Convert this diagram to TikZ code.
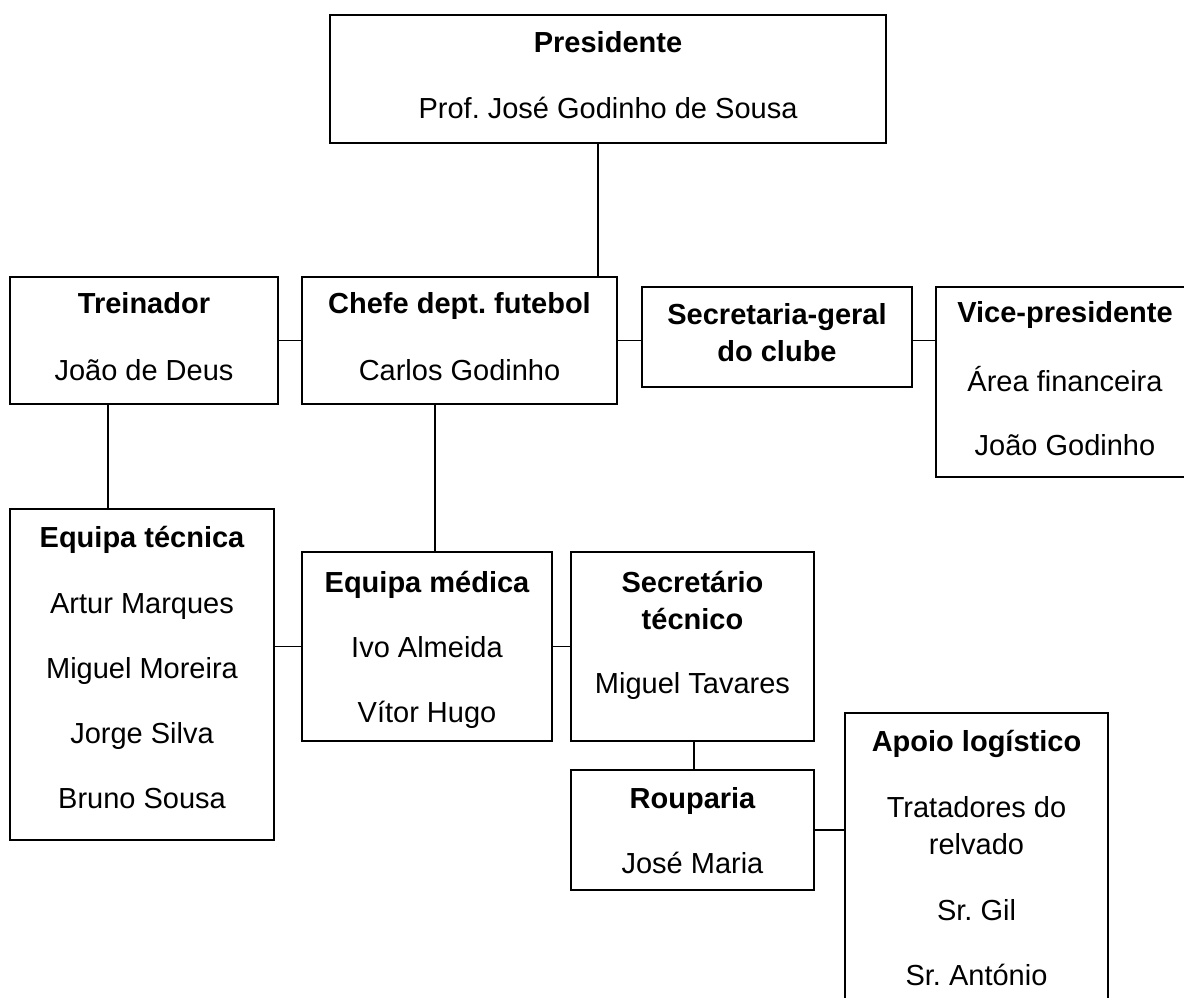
\documentclass[tikz,border=0pt]{standalone}
\usepackage{fontspec}
\setmainfont{Liberation Sans}
\frenchspacing
\begin{document}
\begin{tikzpicture}[x=1pt, y=-1pt,
  box/.style={draw, line width=1.5pt, inner sep=0pt, outer sep=0pt, fill=white},
  link/.style={line width=1.4pt},
  txt/.style={anchor=base, inner sep=0pt, font=\fontsize{29}{35}\selectfont\frenchspacing},
  ttl/.style={txt, font=\fontsize{29}{35}\selectfont\bfseries\frenchspacing}]
\useasboundingbox (0,0) rectangle (1184,997);
\clip (0,0) rectangle (1184,997);

% boxes
\node[box, minimum width=556pt, minimum height=128pt] (pres) at (608,79) {};
\node[box, minimum width=268pt, minimum height=127pt] (trein) at (144,340.5) {};
\node[box, minimum width=315pt, minimum height=127pt] (chefe) at (459.5,340.5) {};
\node[box, minimum width=270pt, minimum height=100pt] (secg) at (777,337) {};
\node[box, minimum width=258pt, minimum height=190pt] (vice) at (1065,382) {};
\node[box, minimum width=264pt, minimum height=331pt] (eqtec) at (142,674.5) {};
\node[box, minimum width=250pt, minimum height=189pt] (eqmed) at (427,646.5) {};
\node[box, minimum width=243pt, minimum height=189pt] (sectec) at (692.5,646.5) {};
\node[box, minimum width=243pt, minimum height=120pt] (roup) at (692.5,830) {};
\node[box, minimum width=263pt, minimum height=300pt] (apoio) at (976.5,863) {};

% texts
\node[ttl] (pres-a) at (608,52) {Presidente};
\node[txt] (pres-b) at (608,118) {Prof. José Godinho de Sousa};

\node[ttl] (trein-a) at (144,313) {Treinador};
\node[txt] (trein-b) at (144,380) {João de Deus};

\node[ttl] (chefe-a) at (459.5,313) {Chefe dept. futebol};
\node[txt] (chefe-b) at (459.5,380) {Carlos Godinho};

\node[ttl] (secg-a) at (777,324) {Secretaria-geral};
\node[ttl] (secg-b) at (777,361) {do clube};

\node[ttl] (vice-a) at (1065,322) {Vice-presidente};
\node[txt] (vice-b) at (1065,391) {Área financeira};
\node[txt] (vice-c) at (1065,455) {João Godinho};

\node[ttl] (eqtec-a) at (142,547) {Equipa técnica};
\node[txt] (eqtec-b) at (142,613) {Artur Marques};
\node[txt] (eqtec-c) at (142,678) {Miguel Moreira};
\node[txt] (eqtec-d) at (142,743) {Jorge Silva};
\node[txt] (eqtec-e) at (142,808) {Bruno Sousa};

\node[ttl] (eqmed-a) at (427,592) {Equipa médica};
\node[txt] (eqmed-b) at (427,657) {Ivo Almeida};
\node[txt] (eqmed-c) at (427,722) {Vítor Hugo};

\node[ttl] (sectec-a) at (692.5,592) {Secretário};
\node[ttl] (sectec-b) at (692.5,629) {técnico};
\node[txt] (sectec-c) at (692.5,693) {Miguel Tavares};

\node[ttl] (roup-a) at (692.5,808) {Rouparia};
\node[txt] (roup-b) at (692.5,873) {José Maria};

\node[ttl] (apoio-a) at (976.5,751) {Apoio logístico};
\node[txt] (apoio-b) at (976.5,817) {Tratadores do};
\node[txt] (apoio-c) at (976.5,854) {relvado};
\node[txt] (apoio-d) at (976.5,920) {Sr. Gil};
\node[txt] (apoio-e) at (976.5,985) {Sr. António};

% connectors
\draw[link] ([xshift=-10pt]pres.south) -- ([xshift=-10pt]pres.south |- chefe.north);
\draw[link] (trein.east) -- (chefe.west);
\draw[link] (chefe.east) -- (chefe.east -| secg.west);
\draw[link] (chefe.east -| secg.east) -- (chefe.east -| vice.west);
\draw[link] ([xshift=-36pt]trein.south) -- ([xshift=-36pt]trein.south |- eqtec.north);
\draw[link] ([xshift=-24.5pt]chefe.south) -- ([xshift=-24.5pt]chefe.south |- eqmed.north);
\draw[link] (eqmed.west -| eqtec.east) -- (eqmed.west);
\draw[link] (eqmed.east) -- (sectec.west);
\draw[link] ([xshift=1.5pt]sectec.south) -- ([xshift=1.5pt]roup.north);
\draw[link] (roup.east) -- (roup.east -| apoio.west);
\end{tikzpicture}
\end{document}
